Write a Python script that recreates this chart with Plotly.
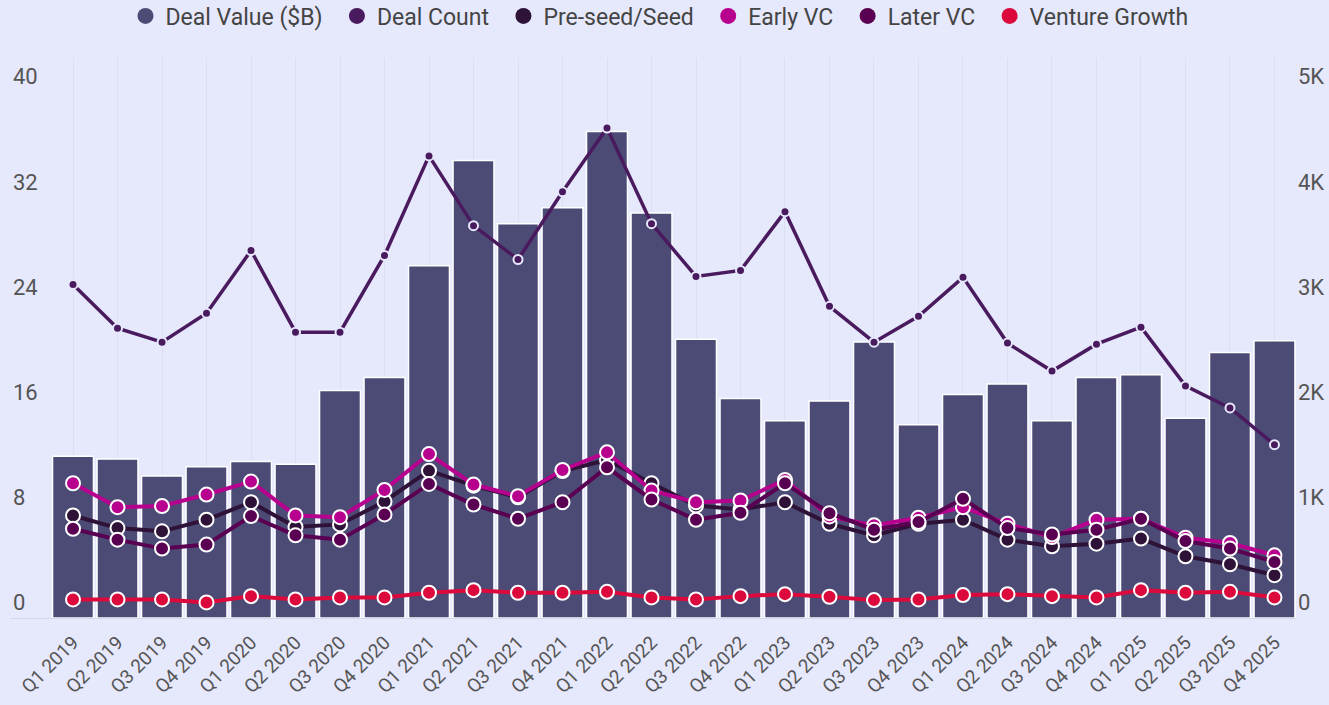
import plotly.graph_objects as go

quarters = ["Q1 2019", "Q2 2019", "Q3 2019", "Q4 2019",
            "Q1 2020", "Q2 2020", "Q3 2020", "Q4 2020",
            "Q1 2021", "Q2 2021", "Q3 2021", "Q4 2021",
            "Q1 2022", "Q2 2022", "Q3 2022", "Q4 2022",
            "Q1 2023", "Q2 2023", "Q3 2023", "Q4 2023",
            "Q1 2024", "Q2 2024", "Q3 2024", "Q4 2024",
            "Q1 2025", "Q2 2025", "Q3 2025", "Q4 2025"]

deal_value_b = [12.3, 12.1, 10.8, 11.5, 11.9, 11.7, 17.3, 18.3,
                26.8, 34.8, 30.0, 31.2, 37.0, 30.8, 21.2, 16.7,
                15.0, 16.5, 21.0, 14.7, 17.0, 17.8, 15.0, 18.3,
                18.5, 15.2, 20.2, 21.1]

deal_count = [3172, 2756, 2623, 2898, 3494, 2718, 2718, 3447,
              4394, 3731, 3409, 4053, 4659, 3750, 3248, 3305,
              3864, 2964, 2623, 2869, 3239, 2614, 2348, 2604,
              2765, 2207, 1998, 1648]

preseed_seed = [975, 855, 824, 934, 1101, 865, 890, 1108,
                1401, 1258, 1148, 1398, 1503, 1281, 1070, 1033,
                1101, 896, 786, 896, 934, 745, 682, 707,
                755, 587, 511, 407]

early_vc = [1281, 1054, 1064, 1174, 1297, 975, 959, 1218,
            1559, 1269, 1158, 1408, 1575, 1212, 1101, 1117,
            1313, 966, 881, 953, 1054, 896, 770, 934,
            944, 764, 713, 596]

later_vc = [849, 745, 660, 698, 969, 786, 745, 985,
            1275, 1079, 944, 1101, 1433, 1127, 934, 1001,
            1281, 997, 840, 912, 1133, 855, 795, 840,
            944, 732, 660, 533]

venture_growth = [177, 177, 177, 148, 208, 177, 196, 196,
                  240, 265, 240, 240, 249, 196, 177, 208,
                  227, 202, 170, 177, 218, 227, 208, 196,
                  265, 240, 249, 196]

left_ticks = [0, 8, 16, 24, 32, 40]
right_ticks = [0, 1000, 2000, 3000, 4000, 5000]
right_ticktext = ["0", "1K", "2K", "3K", "4K", "5K"]

BG = "#e6e8fc"
C_VALUE = "#4c4b76"
C_COUNT = "#4a1a5e"
C_PRE = "#2e1238"
C_EARLY = "#b8008f"
C_LATER = "#5a0052"
C_VG = "#dc0a3c"
FONT = "Roboto"
PAD = "\u2009\u2009"

fig = go.Figure()

fig.add_trace(go.Bar(
    x=quarters, y=deal_value_b, name="Deal Value ($B)",
    marker=dict(color=C_VALUE, line=dict(color="white", width=1.5)),
    showlegend=False, yaxis="y"))

fig.add_trace(go.Scatter(
    x=quarters, y=deal_count, name="Deal Count", mode="lines+markers",
    line=dict(color=C_COUNT, width=3.5),
    marker=dict(color=C_COUNT, size=9, line=dict(color=BG, width=2)),
    showlegend=False, yaxis="y2"))

for name, vals, col in [("Pre-seed/Seed", preseed_seed, C_PRE),
                        ("Early VC", early_vc, C_EARLY),
                        ("Later VC", later_vc, C_LATER),
                        ("Venture Growth", venture_growth, C_VG)]:
    fig.add_trace(go.Scatter(
        x=quarters, y=vals, name=name, mode="lines+markers",
        line=dict(color=col, width=4),
        marker=dict(color=col, size=14, line=dict(color="white", width=2)),
        showlegend=False, yaxis="y2"))

# legend entries (circle icons)
for name, col in [("Deal Value ($B)", C_VALUE), ("Deal Count", C_COUNT),
                  ("Pre-seed/Seed", C_PRE), ("Early VC", C_EARLY),
                  ("Later VC", C_LATER), ("Venture Growth", C_VG)]:
    fig.add_trace(go.Scatter(
        x=[None], y=[None], name=name + PAD, mode="markers",
        marker=dict(color=col, size=16, symbol="circle"),
        showlegend=True, yaxis="y2"))

n = len(quarters)
fig.update_layout(
    width=1329, height=705,
    paper_bgcolor=BG, plot_bgcolor=BG,
    font=dict(family=FONT, color="#555555", size=18),
    margin=dict(l=10, r=32, t=58, b=87, autoexpand=False),
    bargap=0.08,
    showlegend=True,
    legend=dict(orientation="h", x=0.5, xanchor="center",
                y=1 - 16 / 705, yanchor="middle", xref="container", yref="container",
                font=dict(size=23, color="#444444"), bgcolor="rgba(0,0,0,0)",
                itemwidth=30),
    xaxis=dict(type="category", range=[-1.416, n - 1 + 0.506],
               tickangle=-45, tickfont=dict(size=19, color="#555555"),
               ticklabelstandoff=5,
               showgrid=True, gridcolor="rgba(0,0,0,0.045)", gridwidth=1,
               showline=True, linecolor="rgba(0,0,0,0.07)", linewidth=1,
               ticks="", zeroline=False, automargin=False),
    yaxis=dict(range=[0, 42.6], tickvals=left_ticks, showgrid=False,
               zeroline=False, ticklabelposition="inside top",
               tickfont=dict(size=22, color="#555555"), automargin=False),
    yaxis2=dict(range=[0, 5325], tickvals=right_ticks, ticktext=right_ticktext,
                overlaying="y", side="right", showgrid=False, zeroline=False,
                ticklabelposition="outside top",
                tickfont=dict(size=22, color="#555555"), automargin=False),
)

fig.write_html(
    "out.html",
    config={"displayModeBar": False},
    post_script="document.body.style.margin='0px';document.body.style.overflow='hidden';",
)
